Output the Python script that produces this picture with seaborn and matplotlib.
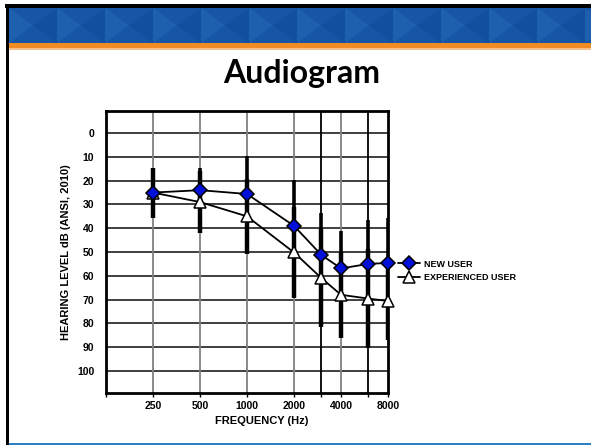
import numpy as np
import matplotlib
matplotlib.use("Agg")
import matplotlib.pyplot as plt
from matplotlib.patches import Rectangle, Polygon
from matplotlib.ticker import FixedLocator, FixedFormatter, NullLocator
import seaborn as sns

# audiogram data (dB HL)
freqs = [250, 500, 1000, 2000, 3000, 4000, 6000, 8000]
new_user = [25, 24, 25.6, 39, 51.3, 56.9, 55, 54.6]
new_sd = [10.5, 9.3, 15.8, 19.4, 17.7, 15.6, 18.6, 18.9]
exp_user = [25, 29, 35, 50.2, 61, 68, 69.6, 70.6]
exp_sd = [10.5, 13, 15.7, 19.1, 20.7, 18, 20.7, 16.4]

grid_freqs = [125, 250, 500, 1000, 2000, 3000, 4000, 6000, 8000]
freq_labels = ["", "250", "500", "1000", "2000", "", "4000", "", "8000"]
db_ticks = [0, 10, 20, 30, 40, 50, 60, 70, 80, 90, 100]

W, H = 591, 445

sns.set_theme(style="white")
plt.rcParams['font.family'] = ['Liberation Sans', 'DejaVu Sans']
plt.rcParams['text.color'] = 'black'
plt.rcParams['xtick.color'] = 'black'
plt.rcParams['ytick.color'] = 'black'
plt.rcParams['axes.labelcolor'] = 'black'

fig = plt.figure(figsize=(W / 100, H / 100), dpi=100)


def px(x0, y0, x1, y1):
    # pixel box (top-left origin) -> figure fraction rectangle
    return (x0 / W, 1 - y1 / H), (x1 - x0) / W, (y1 - y0) / H


def fig_rect(x0, y0, x1, y1, color):
    xy, w, h = px(x0, y0, x1, y1)
    fig.patches.append(Rectangle(xy, w, h, transform=fig.transFigure,
                                 color=color, lw=0, zorder=0))


# slide frame and banner
fig_rect(9, 8, W, 43, '#1756A6')
step = 48
for i, x in enumerate(range(9, W + step, step)):
    tri1 = [(x, 8), (x + step / 2, 25.5), (x, 43)]
    tri2 = [(x + step, 8), (x + step / 2, 25.5), (x + step, 43)]
    for tri, col in [(tri1, '#2466B4'), (tri2, '#0F4B98')]:
        pts = [(a / W, 1 - b / H) for a, b in tri]
        fig.patches.append(Polygon(pts, closed=True, transform=fig.transFigure,
                                   color=col, lw=0, zorder=0.5, alpha=0.6))
fig_rect(9, 43, W, 48.5, '#F18C25')
fig_rect(9, 48.5, W, 50, '#F8C08A')
fig_rect(5, 4, W, 8, 'black')
fig_rect(6, 4, 9, H, 'black')
fig_rect(9, 442.5, W, H, '#2F80C0')

fig.text(302 / W, 1 - 73 / H, "Audiogram", ha='center', va='center',
         fontsize=23, fontweight='bold', color='black',
         family=['Lato', 'DejaVu Sans'])

ax = fig.add_axes([106 / W, 1 - 393 / H, 282 / W, 282 / H])
ax.set_xscale('log', base=2)

# error bars first, so markers sit on top
ax.errorbar(freqs, new_user, yerr=new_sd, fmt='none', ecolor='black',
            elinewidth=2.6, capsize=0, zorder=2)
ax.errorbar(freqs, exp_user, yerr=exp_sd, fmt='none', ecolor='black',
            elinewidth=3.2, capsize=0, zorder=2)

sns.lineplot(x=freqs, y=new_user, ax=ax, color='black', lw=1.3,
             marker='D', markersize=7, markerfacecolor='#0010D8',
             markeredgecolor='black', markeredgewidth=1.1,
             label='NEW USER', zorder=4, clip_on=False)
sns.lineplot(x=freqs, y=exp_user, ax=ax, color='black', lw=1.3,
             marker='^', markersize=8.5, markerfacecolor='white',
             markeredgecolor='black', markeredgewidth=1.1,
             label='EXPERIENCED USER', zorder=3, clip_on=False)

# grid
for d in db_ticks:
    ax.axhline(d, color='#303030', lw=1.3, zorder=1)
for f in grid_freqs[1:-1]:
    col = 'black' if f in (3000, 6000) else '#808080'
    ax.axvline(f, color=col, lw=1.3, zorder=1)

ax.set_xlim(125, 8000)
ax.set_ylim(109.3, -9.3)

ax.xaxis.set_major_locator(FixedLocator(grid_freqs))
ax.xaxis.set_major_formatter(FixedFormatter(freq_labels))
ax.xaxis.set_minor_locator(NullLocator())
ax.set_yticks(db_ticks)
ax.tick_params(axis='x', bottom=True, length=3, width=1, color='black',
               direction='out', pad=3, labelsize=7.5)
ax.tick_params(axis='y', left=False, pad=2.5, labelsize=7.5)
for lab in ax.get_xticklabels() + ax.get_yticklabels():
    lab.set_fontweight('bold')

for sp in ax.spines.values():
    sp.set_color('black')
    sp.set_linewidth(2)

ax.set_xlabel("")
ax.set_ylabel("HEARING LEVEL dB (ANSI, 2010)", fontsize=8, fontweight='bold',
              labelpad=4)
fig.text(262 / W, 1 - 421.5 / H, "FREQUENCY (Hz)", ha='center', va='center',
         fontsize=8, fontweight='bold')

leg = ax.legend(loc='center left', bbox_to_anchor=(398 / W, 1 - 271 / H),
                bbox_transform=fig.transFigure, frameon=False, fontsize=6.5,
                handlelength=2.4, handletextpad=0.5, labelspacing=0.55,
                borderpad=0, borderaxespad=0)
for t in leg.get_texts():
    t.set_fontweight('bold')

fig.savefig("out.png", dpi=100)
